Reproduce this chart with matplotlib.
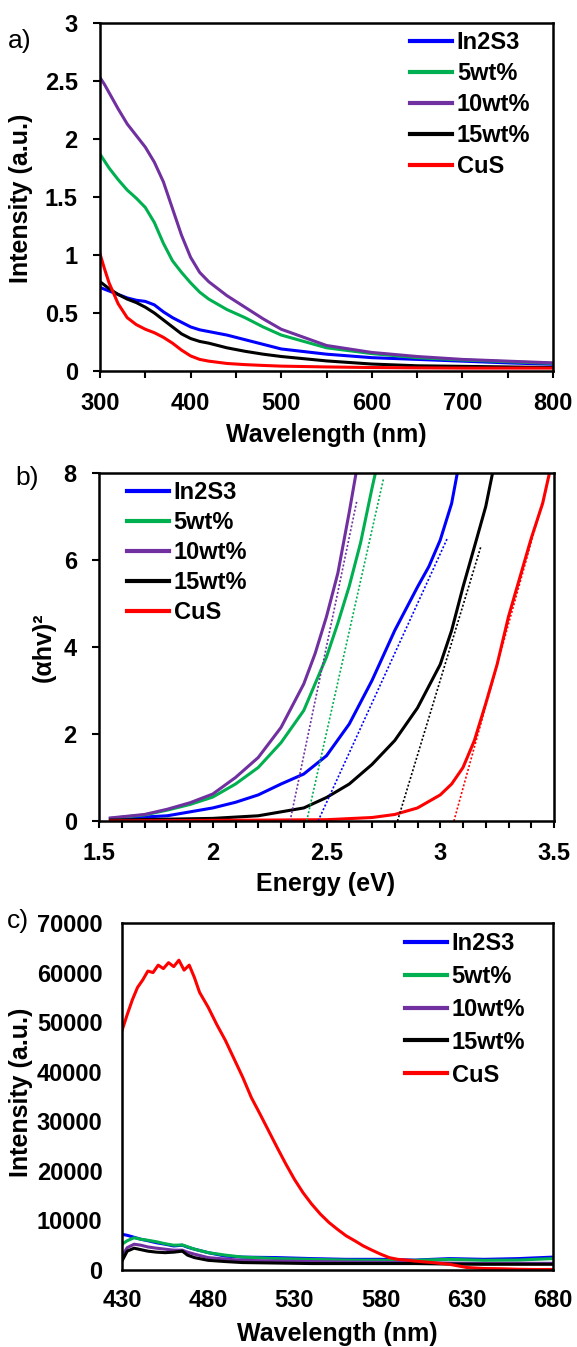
import matplotlib
matplotlib.use("Agg")
import matplotlib.pyplot as plt

plt.rcParams['font.family'] = ['Liberation Sans', 'DejaVu Sans']
plt.rcParams['font.weight'] = 'bold'

labels = ["In2S3", "5wt%", "10wt%", "15wt%", "CuS"]
colors = ["#0000FF", "#00B050", "#7030A0", "#000000", "#FF0000"]

# ---- panel a: absorbance ----
wl_a = [300, 305, 310, 320, 330, 340, 350, 360, 370, 380, 390, 400, 410, 420,
        440, 460, 480, 500, 550, 600, 650, 700, 750, 800]
abs_in2s3 = [0.72, 0.705, 0.69, 0.66, 0.63, 0.61, 0.60, 0.57, 0.51, 0.46, 0.42, 0.38, 0.355, 0.34,
             0.31, 0.27, 0.23, 0.19, 0.145, 0.115, 0.10, 0.085, 0.07, 0.058]
abs_5wt = [1.87, 1.81, 1.75, 1.65, 1.56, 1.49, 1.41, 1.28, 1.10, 0.95, 0.85, 0.76, 0.68, 0.62,
           0.53, 0.46, 0.38, 0.31, 0.20, 0.15, 0.115, 0.095, 0.08, 0.066]
abs_10wt = [2.53, 2.47, 2.40, 2.26, 2.13, 2.03, 1.93, 1.80, 1.63, 1.40, 1.17, 0.98, 0.85, 0.77,
            0.65, 0.55, 0.45, 0.36, 0.22, 0.16, 0.125, 0.10, 0.085, 0.07]
abs_15wt = [0.77, 0.74, 0.71, 0.66, 0.62, 0.59, 0.55, 0.50, 0.44, 0.38, 0.32, 0.28, 0.255, 0.24,
            0.20, 0.17, 0.145, 0.125, 0.087, 0.06, 0.045, 0.04, 0.035, 0.03]
abs_cus = [1.01, 0.88, 0.76, 0.58, 0.46, 0.40, 0.36, 0.33, 0.29, 0.24, 0.18, 0.13, 0.10, 0.085,
           0.065, 0.055, 0.048, 0.042, 0.035, 0.03, 0.027, 0.025, 0.025, 0.025]

# ---- panel b: Tauc plot ----
e_in2s3 = [1.55, 1.8, 2.0, 2.1, 2.2, 2.3, 2.4, 2.5, 2.6, 2.7, 2.8, 2.9, 2.95, 3.0, 3.05, 3.075]
t_in2s3 = [0.05, 0.12, 0.3, 0.43, 0.6, 0.85, 1.08, 1.5, 2.23, 3.23, 4.38, 5.38, 5.85, 6.46, 7.3, 8.0]
e_5wt = [1.55, 1.7, 1.8, 1.9, 2.0, 2.1, 2.2, 2.3, 2.4, 2.5, 2.55, 2.6, 2.65, 2.7, 2.715]
t_5wt = [0.06, 0.14, 0.25, 0.38, 0.55, 0.85, 1.23, 1.8, 2.54, 3.77, 4.55, 5.4, 6.4, 7.65, 8.0]
e_10wt = [1.55, 1.7, 1.8, 1.9, 2.0, 2.1, 2.2, 2.3, 2.4, 2.45, 2.5, 2.55, 2.6, 2.63]
t_10wt = [0.07, 0.15, 0.27, 0.42, 0.62, 1.0, 1.46, 2.15, 3.15, 3.85, 4.7, 5.7, 7.1, 8.0]
e_15wt = [1.55, 2.0, 2.2, 2.4, 2.5, 2.6, 2.7, 2.8, 2.9, 3.0, 3.05, 3.1, 3.15, 3.2, 3.23]
t_15wt = [0.02, 0.06, 0.12, 0.3, 0.54, 0.85, 1.3, 1.85, 2.6, 3.6, 4.38, 5.38, 6.3, 7.23, 8.0]
e_cus = [1.55, 2.5, 2.7, 2.8, 2.9, 3.0, 3.05, 3.1, 3.15, 3.2, 3.25, 3.3, 3.35, 3.4, 3.45, 3.48]
t_cus = [0.0, 0.03, 0.08, 0.15, 0.3, 0.6, 0.85, 1.23, 1.85, 2.7, 3.6, 4.7, 5.6, 6.5, 7.3, 8.0]
# tangent (fit) lines: x endpoints, y endpoints
fit_x = [[2.463, 3.033], [2.413, 2.751], [2.34, 2.633], [2.812, 3.178], [3.06, 3.484]]
fit_y = [[0, 6.52], [0, 7.88], [0, 7.35], [0, 6.3], [0, 8.0]]

# ---- panel c: PL ----
wl_c = [430, 433, 437, 441, 445, 450, 455, 460, 465, 468, 472, 480, 490, 500, 520, 540,
        560, 580, 600, 620, 640, 660, 680]
pl_in2s3 = [7200, 7000, 6600, 6200, 5900, 5500, 5200, 4850, 5000, 4600, 4200, 3500, 2800, 2600,
            2500, 2300, 2150, 2150, 2000, 2300, 2150, 2300, 2600]
pl_5wt = [5200, 5900, 6500, 6200, 6000, 5700, 5300, 5000, 5050, 4700, 4200, 3500, 3000, 2600,
          2300, 2150, 2000, 1950, 1950, 2150, 1950, 2000, 2300]
pl_10wt = [2800, 4500, 5200, 5000, 4650, 4400, 4200, 4000, 4000, 3600, 3200, 2500, 2200, 1950,
           1800, 1700, 1600, 1550, 1500, 1400, 1300, 1350, 1350]
pl_15wt = [1800, 3800, 4400, 4100, 3800, 3600, 3500, 3600, 3800, 3000, 2500, 1950, 1700, 1500,
           1400, 1300, 1300, 1300, 1300, 1200, 1150, 1150, 1150]
wl_cus = [430, 433, 436, 439, 442, 445, 448, 451, 454, 457, 460, 463, 466, 469, 472, 475, 480,
          485, 490, 495, 500, 505, 510, 515, 520, 525, 530, 535, 540, 545, 550, 555, 560, 565,
          570, 575, 580, 585, 590, 595, 600, 610, 620, 630, 640, 650, 660, 670, 680]
pl_cus = [48300, 51500, 54500, 57000, 58500, 60300, 60000, 61500, 60800, 62000, 61200, 62500,
          60500, 61500, 59000, 56000, 53000, 49500, 46300, 42600, 38900, 34800, 31500, 28100,
          24700, 21400, 18300, 15600, 13300, 11300, 9600, 8200, 6900, 5900, 4850, 4000, 3200,
          2500, 2150, 2000, 1800, 1500, 1150, 500, 300, 250, 150, 100, 100]

W, H = 577, 1347
fig = plt.figure(figsize=(W / 100, H / 100), dpi=100)

def ax_at(l, t, r, b):
    return fig.add_axes([l / W, 1 - b / H, (r - l) / W, (b - t) / H])

def fx(x):
    return x / W

def fy(y):
    return 1 - y / H

TICK = 17
LAB = 18
LEG = 17
LW = 2.2

def style(ax):
    for s in ax.spines.values():
        s.set_linewidth(1.8)
        s.set_color('black')
    for lab in ax.get_xticklabels() + ax.get_yticklabels():
        lab.set_fontweight('bold')

def legend(ax, x_px, y_top_px, spacing):
    leg = ax.legend(loc='upper left', bbox_to_anchor=(fx(x_px), fy(y_top_px)),
                    bbox_transform=fig.transFigure, frameon=False,
                    prop={'size': LEG, 'weight': 'bold'}, handlelength=1.78,
                    handletextpad=0.2, labelspacing=spacing, borderaxespad=0,
                    borderpad=0)
    for h in leg.get_lines():
        h.set_linewidth(3.0)
    return leg

def xlab(text, xc, yb):
    fig.text(fx(xc), fy(yb), text, fontsize=LAB, fontweight='bold',
             ha='center', va='baseline')

def ylab(text, xc, yc):
    fig.text(fx(xc), fy(yc), text, fontsize=LAB, fontweight='bold',
             ha='center', va='center', rotation=90)

# Panel a
axa = ax_at(100, 23, 553, 371)
for y, c, l in zip([abs_in2s3, abs_5wt, abs_10wt, abs_15wt, abs_cus], colors, labels):
    axa.plot(wl_a, y, color=c, lw=LW, label=l)
axa.set_xlim(300, 800)
axa.set_ylim(0, 3)
axa.set_xticks(range(300, 801, 100))
axa.set_xticks(range(350, 800, 100), minor=True)
axa.set_yticks([0, 0.5, 1, 1.5, 2, 2.5, 3])
axa.set_yticklabels(['0', '0.5', '1', '1.5', '2', '2.5', '3'])
axa.tick_params(axis='both', which='both', direction='out', length=5, width=1.5,
                labelsize=TICK)
axa.tick_params(axis='x', pad=10)
axa.tick_params(axis='y', pad=11)
style(axa)
legend(axa, 410, 31, 0.34)
xlab('Wavelength (nm)', 326, 442)
ylab('Intensity (a.u.)', 21, 198)
fig.text(fx(8), fy(41), 'a)', fontsize=19, fontweight='normal', va='center', ha='left')

# Panel b
axb = ax_at(99, 473, 554, 821)
for ex, ty, c, l in zip([e_in2s3, e_5wt, e_10wt, e_15wt, e_cus],
                        [t_in2s3, t_5wt, t_10wt, t_15wt, t_cus], colors, labels):
    axb.plot(ex, ty, color=c, lw=LW, label=l)
for fxs, fys, c in zip(fit_x, fit_y, colors):
    axb.plot(fxs, fys, color=c, lw=1.2, ls=(0, (1.2, 1.2)))
axb.set_xlim(1.5, 3.5)
axb.set_ylim(0, 8)
axb.set_xticks([1.5, 2, 2.5, 3, 3.5])
axb.set_xticklabels(['1.5', '2', '2.5', '3', '3.5'])
axb.set_xticks([1.6, 1.7, 1.8, 1.9, 2.1, 2.2, 2.3, 2.4, 2.6, 2.7, 2.8, 2.9,
                3.1, 3.2, 3.3, 3.4], minor=True)
axb.set_yticks([0, 2, 4, 6, 8])
axb.tick_params(axis='both', which='both', direction='out', length=5, width=1.5,
                labelsize=TICK)
axb.tick_params(axis='x', pad=10)
axb.tick_params(axis='y', pad=11)
style(axb)
legend(axb, 127, 481, 0.30)
xlab('Energy (eV)', 326, 891)
ylab('(αhv)²', 44, 647)
fig.text(fx(15), fy(478), 'b)', fontsize=19, fontweight='normal', va='center', ha='left')

# Panel c
axc = ax_at(122, 923, 553, 1270)
for xx, y, c, l in zip([wl_c, wl_c, wl_c, wl_c, wl_cus],
                       [pl_in2s3, pl_5wt, pl_10wt, pl_15wt, pl_cus], colors, labels):
    axc.plot(xx, y, color=c, lw=LW, label=l)
axc.set_xlim(430, 680)
axc.set_ylim(0, 70000)
axc.set_xticks(range(430, 681, 50))
axc.set_yticks(range(0, 70001, 10000))
axc.tick_params(axis='both', length=0, pad=14, labelsize=TICK)
style(axc)
legend(axc, 405, 932, 0.42)
xlab('Wavelength (nm)', 337, 1341)
ylab('Intensity (a.u.)', 21, 1092)
fig.text(fx(7), fy(921), 'c)', fontsize=19, fontweight='normal', va='center', ha='left')

fig.savefig('out.png', dpi=100)
